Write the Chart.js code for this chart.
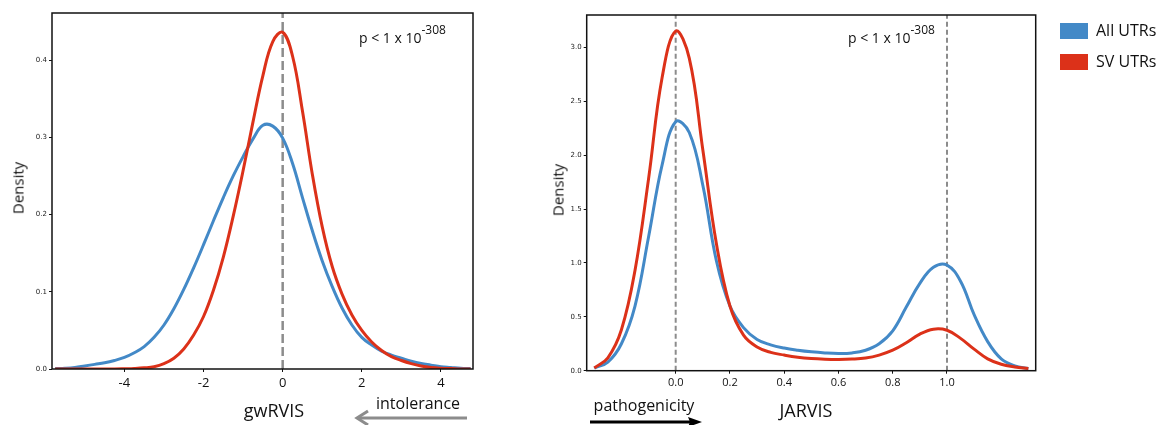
<!DOCTYPE html>
<html>
<head>
<meta charset="utf-8">
<script src="https://cdn.jsdelivr.net/npm/chart.js@4.4.1/dist/chart.umd.min.js"></script>
<style>
  body { margin: 0; background: #fff; font-family: "Open Sans", sans-serif; color: #111; }
  #wrap { position: relative; width: 1168px; height: 425px; overflow: hidden; }
  canvas { position: absolute; top: 0; }
  .lbl { position: absolute; white-space: nowrap; line-height: 1; }
  .mid { transform: translate(-50%, -50%); }
  .rot { transform: translate(-50%, -50%) rotate(-90deg); }
  .pval { font-size: 14px; line-height: 14px; }
  .pval span { font-size: 12px; position: relative; top: -9px; }
  .sw { position: absolute; width: 28px; height: 16px; }
</style>
</head>
<body>
<div id="wrap">
  <canvas id="gw" width="490" height="400" style="left:0"></canvas>
  <canvas id="jv" width="510" height="400" style="left:540px"></canvas>

  <div class="lbl rot" style="left:18px;top:188px;font-size:15px">Density</div>
  <div class="lbl rot" style="left:558px;top:190px;font-size:15px">Density</div>
  <div class="lbl mid" style="left:274px;top:410px;font-size:18px">gwRVIS</div>
  <div class="lbl mid" style="left:806px;top:410px;font-size:18px">JARVIS</div>
  <div class="lbl mid" style="left:418px;top:403px;font-size:16px">intolerance</div>
  <div class="lbl mid" style="left:644px;top:405px;font-size:16px">pathogenicity</div>
  <div class="lbl pval" style="left:359px;top:31px">p &lt; 1 x 10<span>-308</span></div>
  <div class="lbl pval" style="left:848px;top:31px">p &lt; 1 x 10<span>-308</span></div>

  <div class="sw" style="left:1060px;top:23px;background:#4389c7"></div>
  <div class="lbl" style="left:1096px;top:22px;font-size:16px">All UTRs</div>
  <div class="sw" style="left:1060px;top:54px;background:#dc3119"></div>
  <div class="lbl" style="left:1096px;top:53px;font-size:16px">SV UTRs</div>

  <svg width="1168" height="425" style="position:absolute;left:0;top:0;pointer-events:none">
    <line x1="467" y1="418" x2="358" y2="418" stroke="#8c8c8c" stroke-width="3"/>
    <polyline points="368,411 357,418 368,425" fill="none" stroke="#8c8c8c" stroke-width="3"/>
    <line x1="590" y1="422" x2="694" y2="422" stroke="#000" stroke-width="3"/>
    <polygon points="702,422 688,417 690,422 688,427" fill="#000"/>
  </svg>
</div>

<script>
// --- values ---
// gwRVIS, sampled every 0.25
const gwX   = [-5.75, -5.5, -5.25, -5.0, -4.75, -4.5, -4.25, -4.0, -3.75, -3.5, -3.25, -3.0, -2.75, -2.5, -2.25, -2.0, -1.75, -1.5, -1.25, -1.0, -0.75, -0.5, -0.25, 0, 0.25, 0.5, 0.75, 1.0, 1.25, 1.5, 1.75, 2.0, 2.25, 2.5, 2.75, 3.0, 3.25, 3.5, 3.75, 4.0, 4.25, 4.5, 4.75];
const gwAll = [0.0006, 0.001, 0.002, 0.004, 0.006, 0.008, 0.011, 0.015, 0.021, 0.029, 0.041, 0.057, 0.078, 0.103, 0.131, 0.161, 0.192, 0.222, 0.25, 0.275, 0.298, 0.3155, 0.3145, 0.299, 0.266, 0.222, 0.179, 0.140, 0.107, 0.079, 0.057, 0.041, 0.031, 0.023, 0.018, 0.014, 0.010, 0.007, 0.005, 0.003, 0.002, 0.001, 0.0005];
const gwSV  = [0, 0, 0, 0, 0, 0, 0, 0.0003, 0.0007, 0.0015, 0.003, 0.007, 0.014, 0.026, 0.044, 0.068, 0.102, 0.145, 0.198, 0.257, 0.32, 0.38, 0.424, 0.436, 0.405, 0.334, 0.252, 0.184, 0.133, 0.097, 0.07, 0.05, 0.035, 0.024, 0.016, 0.011, 0.007, 0.004, 0.002, 0.001, 0.0005, 0, 0];

// JARVIS, sampled every 0.05
const jvX   = [-0.3, -0.25, -0.2, -0.15, -0.1, -0.05, 0, 0.05, 0.1, 0.15, 0.2, 0.25, 0.3, 0.35, 0.4, 0.45, 0.5, 0.55, 0.6, 0.65, 0.7, 0.75, 0.8, 0.85, 0.9, 0.95, 1.0, 1.05, 1.1, 1.15, 1.2, 1.25, 1.3];
const jvAll = [0.025, 0.08, 0.25, 0.6, 1.24, 1.91, 2.31, 2.21, 1.72, 1.02, 0.6, 0.4, 0.29, 0.24, 0.21, 0.19, 0.175, 0.165, 0.16, 0.165, 0.19, 0.25, 0.37, 0.59, 0.81, 0.96, 0.98, 0.83, 0.52, 0.27, 0.11, 0.045, 0.02];
const jvSV  = [0.025, 0.12, 0.38, 0.93, 1.78, 2.72, 3.15, 2.9, 2.05, 1.18, 0.6, 0.33, 0.22, 0.17, 0.145, 0.125, 0.113, 0.107, 0.105, 0.108, 0.118, 0.145, 0.19, 0.26, 0.34, 0.385, 0.375, 0.30, 0.20, 0.11, 0.06, 0.035, 0.02];

const gwXTicks = [-4, -2, 0, 2, 4];
const gwYTicks = [0, 0.1, 0.2, 0.3, 0.4];
const jvXTicks = [0, 0.2, 0.4, 0.6, 0.8, 1.0];
const jvYTicks = [0, 0.5, 1.0, 1.5, 2.0, 2.5, 3.0];
const gwRefX = [0];
const jvRefX = [0, 1];

const AZUL = '#4389c7';
const VERMELHO = '#dc3119';

function pontos(xs, ys) {
    return xs.map((x, i) => ({ x: x, y: ys[i] }));
}

// black box around the plot area
const moldura = {
    id: 'moldura',
    afterDatasetsDraw(chart) {
        const a = chart.chartArea;
        const ctx = chart.ctx;
        ctx.save();
        ctx.strokeStyle = '#111';
        ctx.lineWidth = 1.5;
        ctx.strokeRect(a.left, a.top, a.right - a.left, a.bottom - a.top);
        ctx.restore();
    }
};

function criarGrafico(id, cfg) {
    const curva = (label, xs, ys, cor, ordem) => ({
        label: label, data: pontos(xs, ys), borderColor: cor, borderWidth: 3,
        pointRadius: 0, fill: false, tension: 0.4, order: ordem
    });
    const refs = cfg.refX.map(r => ({
        data: [{ x: r, y: cfg.yMin }, { x: r, y: cfg.yMax }],
        borderColor: '#8c8c8c', borderWidth: cfg.dashW, borderDash: cfg.dash,
        pointRadius: 0, fill: false, order: 3
    }));

    new Chart(document.getElementById(id), {
        type: 'line',
        data: {
            datasets: [
                curva('SV UTRs', cfg.x, cfg.sv, VERMELHO, 1),
                curva('All UTRs', cfg.x, cfg.all, AZUL, 2)
            ].concat(refs)
        },
        options: {
            responsive: false,
            animation: false,
            layout: { padding: { left: 0, right: cfg.padRight, top: cfg.padTop, bottom: 0 } },
            plugins: { legend: { display: false }, tooltip: { enabled: false } },
            scales: {
                x: {
                    type: 'linear', min: cfg.xMin, max: cfg.xMax,
                    afterBuildTicks: s => { s.ticks = cfg.xTicks.map(v => ({ value: v })); },
                    afterFit: s => { s.height = cfg.xAxisH; },
                    ticks: {
                        autoSkip: false, maxRotation: 0, padding: 3,
                        color: '#111', font: { family: 'Open Sans', size: cfg.xFont },
                        callback: cfg.xFmt
                    },
                    grid: { drawOnChartArea: false, drawTicks: true, tickLength: 3, tickColor: '#111', tickWidth: 1 },
                    border: { display: false }
                },
                y: {
                    type: 'linear', min: cfg.yMin, max: cfg.yMax,
                    afterBuildTicks: s => { s.ticks = cfg.yTicks.map(v => ({ value: v })); },
                    afterFit: s => { s.width = cfg.yAxisW; },
                    ticks: {
                        autoSkip: false, padding: 2,
                        color: '#222', font: { family: 'DejaVu Sans', size: 7 },
                        callback: v => v.toFixed(1)
                    },
                    grid: { drawOnChartArea: false, drawTicks: true, tickLength: 3, tickColor: '#111', tickWidth: 1 },
                    border: { display: false }
                }
            }
        },
        plugins: [moldura]
    });
}

criarGrafico('gw', {
    x: gwX, all: gwAll, sv: gwSV, refX: gwRefX,
    xTicks: gwXTicks, yTicks: gwYTicks,
    xMin: -5.83, xMax: 4.81, yMin: 0, yMax: 0.461,
    yAxisW: 52, xAxisH: 31, padRight: 17, padTop: 13,
    xFont: 13, xFmt: v => String(v),
    dash: [9, 4], dashW: 2.5
});

criarGrafico('jv', {
    x: jvX, all: jvAll, sv: jvSV, refX: jvRefX,
    xTicks: jvXTicks, yTicks: jvYTicks,
    xMin: -0.328, xMax: 1.327, yMin: 0, yMax: 3.30,
    yAxisW: 46.7, xAxisH: 29.3, padRight: 14.3, padTop: 15,
    xFont: 11, xFmt: v => v.toFixed(1),
    dash: [5, 3], dashW: 2
});
</script>
</body>
</html>
